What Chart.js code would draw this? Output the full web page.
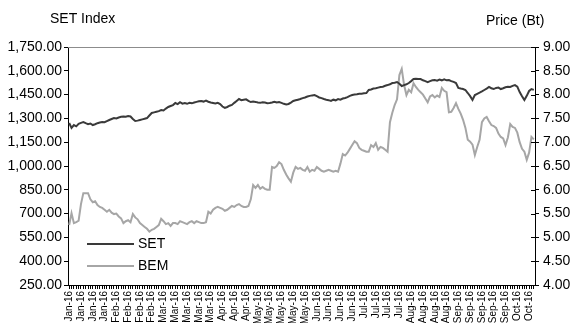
<!DOCTYPE html>
<html>
<head>
<meta charset="utf-8">
<script src="https://cdn.jsdelivr.net/npm/chart.js@4.4.0/dist/chart.umd.min.js"></script>
<style>
  html, body { margin: 0; padding: 0; background: #fff; }
  #chart { display: block; }
</style>
</head>
<body>
<canvas id="chart" width="572" height="323"></canvas>
<script>
// weekly tick labels (one every 5 trading days)
const weekLabels = [
  "Jan-16", "Jan-16", "Jan-16", "Jan-16",
  "Feb-16", "Feb-16", "Feb-16", "Feb-16",
  "Mar-16", "Mar-16", "Mar-16", "Mar-16", "Mar-16",
  "Apr-16", "Apr-16", "Apr-16",
  "May-16", "May-16", "May-16", "May-16", "May-16",
  "Jun-16", "Jun-16", "Jun-16", "Jun-16",
  "Jul-16", "Jul-16", "Jul-16", "Jul-16",
  "Aug-16", "Aug-16", "Aug-16", "Aug-16",
  "Sep-16", "Sep-16", "Sep-16", "Sep-16", "Sep-16",
  "Oct-16", "Oct-16"
];

// SET index, daily close (left axis)
const setValues = [
  1271, 1240, 1258, 1250, 1266, 1272, 1277, 1270, 1264, 1268,
  1258, 1263, 1270, 1274, 1277, 1276, 1283, 1290, 1296, 1302,
  1300, 1306, 1310, 1312, 1310, 1315, 1312, 1296, 1284, 1286,
  1290, 1294, 1298, 1302, 1318, 1334, 1338, 1342, 1346, 1353,
  1350, 1362, 1372, 1378, 1384, 1397, 1390, 1402, 1393,
  1397, 1392, 1398, 1395, 1400, 1404, 1408, 1410, 1406, 1412,
  1405, 1400, 1397, 1394, 1398, 1390, 1375, 1366, 1372, 1380,
  1385, 1398, 1410, 1422, 1415, 1418, 1420, 1410, 1403, 1406,
  1404, 1400, 1398, 1402, 1400, 1396, 1397, 1400, 1405, 1400,
  1403, 1398, 1392, 1388, 1391, 1400, 1410, 1414, 1418,
  1422, 1428, 1432, 1438, 1442, 1445, 1447, 1440, 1432, 1428,
  1422, 1418, 1415, 1410, 1418, 1414, 1422, 1418, 1425, 1429,
  1434, 1442, 1447, 1450, 1452, 1455, 1456, 1458, 1460,
  1479, 1482, 1488, 1490, 1494, 1498, 1500, 1506, 1510, 1515,
  1523, 1525, 1529, 1518, 1504, 1510, 1515, 1523, 1535, 1548,
  1550, 1548, 1548, 1540, 1535, 1529, 1535, 1540, 1542, 1538,
  1545, 1540, 1546, 1540, 1542, 1535, 1530, 1523, 1492, 1488,
  1485, 1479, 1460, 1440, 1416, 1447, 1455, 1462, 1470, 1479,
  1488, 1498, 1490, 1485, 1492, 1494, 1485, 1490, 1496,
  1500, 1498, 1505, 1510, 1500, 1466, 1440, 1416, 1442, 1473,
  1485, 1480
];

// BEM share price in baht (right axis)
const bemValues = [
  5.26, 5.51, 5.30, 5.32, 5.35, 5.70, 5.93, 5.93, 5.93, 5.80,
  5.74, 5.76, 5.68, 5.64, 5.62, 5.58, 5.54, 5.58, 5.52, 5.49,
  5.50, 5.44, 5.40, 5.30, 5.34, 5.36, 5.32, 5.49, 5.42, 5.38,
  5.30, 5.26, 5.22, 5.18, 5.12, 5.16, 5.18, 5.22, 5.26, 5.39,
  5.34, 5.28, 5.30, 5.24, 5.30, 5.30, 5.28, 5.34, 5.32,
  5.30, 5.28, 5.32, 5.34, 5.30, 5.34, 5.32, 5.30, 5.30, 5.32,
  5.54, 5.50, 5.58, 5.62, 5.64, 5.62, 5.60, 5.56, 5.58, 5.62,
  5.66, 5.64, 5.68, 5.70, 5.66, 5.64, 5.64, 5.66, 5.80, 6.10,
  6.04, 6.10, 6.02, 6.06, 6.02, 6.00, 6.00, 6.48, 6.46, 6.50,
  6.58, 6.54, 6.42, 6.32, 6.24, 6.17, 6.36, 6.48, 6.44,
  6.46, 6.42, 6.40, 6.48, 6.38, 6.42, 6.40, 6.48, 6.44, 6.40,
  6.38, 6.40, 6.42, 6.40, 6.38, 6.40, 6.38, 6.55, 6.75, 6.72,
  6.78, 6.86, 6.94, 7.02, 6.98, 6.88, 6.84, 6.82, 6.80,
  6.80, 6.94, 6.90, 6.98, 6.84, 6.90, 6.88, 6.84, 6.80, 7.42,
  7.62, 7.78, 7.90, 8.41, 8.54, 8.20, 7.99, 8.10, 8.05, 8.24,
  8.16, 8.10, 8.05, 8.00, 7.92, 7.84, 7.96, 7.99, 7.94, 7.98,
  7.95, 8.14, 8.08, 8.05, 7.63, 7.64, 7.72, 7.82, 7.70, 7.60,
  7.47, 7.30, 7.05, 7.01, 6.95, 6.73, 6.90, 7.05, 7.42, 7.50,
  7.53, 7.44, 7.36, 7.34, 7.30, 7.18, 7.11, 7.08, 6.94,
  7.10, 7.38, 7.32, 7.30, 7.20, 7.00, 6.86, 6.80, 6.63, 6.78,
  7.11, 7.06
];

const FONT = "'Liberation Sans', Arial, sans-serif";
const setColor = "#3a3a3a";
const bemColor = "#a6a6a6";

// one category per trading day, label shown every 5th
const labels = setValues.map((_, i) => (i % 5 === 0 ? weekLabels[i / 5] || "" : ""));

const fmtSet = (v) =>
  v.toLocaleString("en-US", { minimumFractionDigits: 2, maximumFractionDigits: 2 });

// titles, top border, inner right ticks and in-plot legend
const decorations = {
  id: "decorations",
  afterDraw(chart) {
    const { ctx, chartArea: a } = chart;
    ctx.save();
    ctx.fillStyle = "#000";
    ctx.font = "14px " + FONT;
    ctx.textBaseline = "middle";
    ctx.textAlign = "left";
    ctx.fillText("SET Index", 50, 19);
    ctx.fillText("Price (Bt)", 486, 21);

    ctx.strokeStyle = "#8c8c8c";
    ctx.lineWidth = 1;
    ctx.beginPath();
    ctx.moveTo(a.left, a.top + 0.5);
    ctx.lineTo(a.right, a.top + 0.5);
    ctx.stroke();

    // right axis ticks cross the axis line
    const y1 = chart.scales.y1;
    ctx.strokeStyle = "#000";
    ctx.beginPath();
    y1.ticks.forEach((t) => {
      const py = Math.round(y1.getPixelForValue(t.value)) + 0.5;
      ctx.moveTo(a.right - 4, py);
      ctx.lineTo(a.right, py);
    });
    ctx.stroke();

    const items = [
      { text: "SET", color: setColor, y: 244 },
      { text: "BEM", color: bemColor, y: 266 },
    ];
    items.forEach((it) => {
      ctx.strokeStyle = it.color;
      ctx.lineWidth = 2;
      ctx.beginPath();
      ctx.moveTo(87, it.y);
      ctx.lineTo(134, it.y);
      ctx.stroke();
      ctx.fillStyle = "#000";
      ctx.fillText(it.text, 138, it.y);
    });
    ctx.restore();
  },
};

new Chart(document.getElementById("chart"), {
  type: "line",
  data: {
    labels,
    datasets: [
      {
        label: "SET",
        data: setValues,
        yAxisID: "y",
        borderColor: setColor,
        borderWidth: 2,
        pointRadius: 0,
        tension: 0,
      },
      {
        label: "BEM",
        data: bemValues,
        yAxisID: "y1",
        borderColor: bemColor,
        borderWidth: 2,
        pointRadius: 0,
        tension: 0,
      },
    ],
  },
  options: {
    responsive: false,
    animation: false,
    layout: { padding: { top: 47, left: 0, right: 0, bottom: 0 } },
    scales: {
      x: {
        type: "category",
        offset: true,
        border: { display: true, color: "#000", width: 1 },
        grid: { display: true, drawOnChartArea: false, drawTicks: true, tickLength: 4, color: "#000", offset: false },
        ticks: {
          autoSkip: false,
          maxRotation: 90,
          minRotation: 90,
          padding: 2,
          color: "#000",
          font: { family: FONT, size: 10 },
        },
        afterFit: (s) => { s.height = 38; },
      },
      y: {
        position: "left",
        min: 250,
        max: 1750,
        border: { display: true, color: "#000", width: 1 },
        grid: { display: true, drawOnChartArea: false, drawTicks: true, tickLength: 4, color: "#000" },
        ticks: {
          stepSize: 150,
          padding: 2,
          color: "#000",
          font: { family: FONT, size: 14 },
          callback: (v) => fmtSet(v),
        },
        afterFit: (s) => { s.width = 68; },
      },
      y1: {
        position: "right",
        min: 4,
        max: 9,
        border: { display: true, color: "#000", width: 1 },
        grid: { display: true, drawOnChartArea: false, drawTicks: true, tickLength: 4, color: "#000" },
        ticks: {
          stepSize: 0.5,
          padding: 4,
          color: "#000",
          font: { family: FONT, size: 14 },
          callback: (v) => v.toFixed(2),
        },
        afterFit: (s) => { s.width = 37; },
      },
    },
    plugins: {
      legend: { display: false },
      tooltip: { enabled: false },
    },
  },
  plugins: [decorations],
});
</script>
</body>
</html>
